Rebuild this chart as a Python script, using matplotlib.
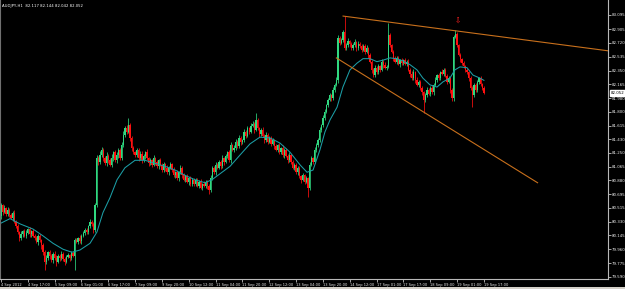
import matplotlib
matplotlib.use("Agg")
import matplotlib.pyplot as plt
from matplotlib.patches import Rectangle

plt.rcParams['font.family'] = ['DejaVu Sans']
plt.rcParams['font.stretch'] = 'condensed'

# ---------------- data ----------------
header_text = "AUDJPY,H1  82.117 82.144 82.042 82.052"
first_open = 80.40
closes = [
    80.55, 80.46, 80.51, 80.43, 80.49, 80.42, 80.38, 80.45, 80.33, 80.27,
    80.19, 80.11, 80.16, 80.20, 80.14, 80.18, 80.23, 80.16, 80.20, 80.14,
    80.11, 80.06, 80.14, 80.08, 80.02, 79.92, 79.79, 79.84, 79.92, 79.87,
    79.82, 79.90, 79.84, 79.79, 79.87, 79.84, 79.90, 79.83, 79.79, 79.86,
    79.88, 79.84, 79.91, 79.87, 80.08, 80.06, 80.11, 80.07, 80.14, 80.18,
    80.22, 80.19, 80.27, 80.33, 80.30, 80.22, 80.55, 81.18, 81.13, 81.22,
    81.29, 81.18, 81.11, 81.21, 81.15, 81.09, 81.18, 81.26, 81.15, 81.22,
    81.29, 81.18, 81.35, 81.49, 81.58, 81.53, 81.62, 81.45, 81.31, 81.26,
    81.22, 81.29, 81.18, 81.24, 81.15, 81.21, 81.26, 81.18, 81.11, 81.15,
    81.09, 81.18, 81.13, 81.07, 81.15, 81.09, 81.02, 81.10, 81.05, 80.99,
    81.05, 81.10, 81.02, 80.95, 80.99, 80.91, 80.99, 81.05, 80.95, 80.89,
    80.94, 80.86, 80.91, 80.83, 80.89, 80.83, 80.89, 80.81, 80.86, 80.78,
    80.83, 80.81, 80.86, 80.81, 80.75, 80.91, 81.05, 80.99, 81.09, 81.05,
    81.13, 81.07, 81.18, 81.13, 81.21, 81.26, 81.15, 81.35, 81.29, 81.31,
    81.40, 81.34, 81.45, 81.40, 81.42, 81.53, 81.48, 81.58, 81.53, 81.61,
    81.64, 81.56, 81.69, 81.58, 81.50, 81.56, 81.48, 81.42, 81.49, 81.40,
    81.45, 81.37, 81.42, 81.34, 81.29, 81.35, 81.26, 81.31, 81.22, 81.29,
    81.21, 81.15, 81.22, 81.13, 81.05, 81.09, 80.99, 81.05, 80.94, 80.89,
    80.95, 80.86, 80.91, 80.78, 81.09, 81.18, 81.13, 81.29, 81.35, 81.42,
    81.56, 81.62, 81.72, 81.80, 81.89, 81.96, 82.02, 81.98, 82.09, 82.16,
    82.23, 82.79, 82.72, 82.76, 82.87, 82.65, 82.69, 82.74, 82.70, 82.65,
    82.69, 82.73, 82.65, 82.71, 82.68, 82.63, 82.68, 82.60, 82.65, 82.56,
    82.47, 82.36, 82.29, 82.39, 82.33, 82.41, 82.36, 82.47, 82.43, 82.39,
    82.40, 82.83, 82.69, 82.60, 82.52, 82.47, 82.52, 82.44, 82.49, 82.45,
    82.49, 82.44, 82.47, 82.36, 82.31, 82.25, 82.33, 82.23, 82.16, 82.20,
    82.12, 82.06, 81.96, 82.02, 82.09, 82.04, 82.12, 82.06, 82.16, 82.23,
    82.29, 82.25, 82.33, 82.31, 82.36, 82.28, 82.20, 82.25, 82.09, 81.98,
    82.80, 82.84, 82.69, 82.56, 82.50, 82.45, 82.41, 82.36, 82.33, 82.25,
    82.12, 82.02, 82.16, 82.09, 82.20, 82.25, 82.17, 82.12, 82.052,
]
upper_wick = [
    .03, .02, .04, .02, .03, .02, .03, .02, .04, .02,
    .03, .02, .04, .02, .03, .04, .02, .03, .02, .03,
    .02, .03, .02, .03, .02, .02, .03, .04, .02, .03,
    .03, .02, .03, .04, .02, .02, .04, .02, .03, .02,
    .03, .02, .03, .02, .03, .03, .02, .04, .02, .03,
    .02, .03, .02, .04, .02, .02, .03, .04, .03, .05,
    .04, .02, .03, .05, .02, .03, .05, .02, .03, .04,
    .02, .03, .04, .05, .03, .04, .10, .03, .02, .03,
    .02, .03, .02, .03, .04, .03, .02, .04, .02, .03,
    .02, .04, .02, .03, .02, .03, .02, .03, .02, .04,
    .02, .03, .02, .04, .02, .03, .02, .04, .02, .03,
    .02, .03, .02, .03, .02, .03, .02, .03, .02, .04,
    .02, .04, .02, .03, .02, .04, .03, .02, .04, .03,
    .03, .02, .04, .02, .03, .02, .03, .05, .02, .04,
    .03, .02, .04, .03, .02, .04, .02, .03, .02, .04,
    .03, .02, .09, .03, .02, .02, .03, .02, .04, .02,
    .03, .02, .03, .02, .03, .02, .03, .02, .04, .02,
    .03, .02, .04, .02, .03, .02, .03, .02, .03, .02,
    .03, .02, .03, .02, .04, .03, .02, .04, .03, .03,
    .03, .02, .04, .03, .02, .02, .03, .02, .04, .03,
    .03, .04, .03, .02, .03, .21, .03, .04, .02, .03,
    .03, .04, .02, .03, .02, .02, .03, .02, .04, .02,
    .03, .02, .03, .04, .02, .03, .02, .04, .02, .03,
    .02, .16, .03, .02, .03, .03, .02, .03, .02, .03,
    .02, .03, .02, .03, .02, .03, .04, .02, .03, .02,
    .02, .03, .02, .03, .04, .03, .02, .04, .02, .03,
    .02, .03, .02, .04, .02, .03, .02, .03, .02, .03,
    .03, .06, .03, .02, .03, .02, .03, .02, .03, .02,
    .03, .02, .03, .02, .03, .02, .03, .02, .024,
]
lower_wick = [
    .03, .04, .02, .03, .02, .03, .02, .04, .02, .03,
    .02, .04, .02, .03, .02, .03, .02, .03, .04, .02,
    .03, .02, .04, .02, .05, .04, .11, .03, .02, .04,
    .03, .04, .02, .05, .02, .04, .02, .03, .04, .02,
    .02, .04, .03, .02, .19, .02, .03, .02, .04, .02,
    .03, .02, .03, .02, .03, .04, .03, .02, .04, .03,
    .03, .04, .02, .03, .04, .02, .03, .04, .02, .03,
    .04, .02, .03, .02, .03, .03, .02, .04, .03, .02,
    .03, .02, .04, .02, .03, .02, .04, .02, .03, .02,
    .03, .02, .04, .02, .03, .02, .03, .02, .04, .02,
    .03, .02, .03, .02, .04, .02, .04, .02, .03, .02,
    .03, .02, .04, .02, .03, .02, .03, .02, .03, .02,
    .03, .02, .03, .04, .05, .02, .03, .02, .03, .02,
    .02, .03, .02, .04, .02, .03, .02, .03, .02, .03,
    .02, .03, .02, .04, .03, .02, .03, .02, .03, .02,
    .02, .04, .02, .03, .04, .03, .02, .04, .02, .03,
    .02, .03, .02, .04, .02, .03, .02, .03, .02, .04,
    .02, .04, .02, .03, .02, .03, .02, .04, .02, .04,
    .02, .03, .02, .12, .03, .02, .03, .02, .03, .02,
    .02, .03, .02, .03, .02, .03, .02, .03, .02, .03,
    .02, .04, .03, .02, .03, .03, .02, .03, .04, .02,
    .02, .03, .04, .02, .03, .03, .02, .03, .02, .04,
    .02, .04, .03, .02, .03, .02, .03, .02, .04, .02,
    .03, .02, .03, .02, .04, .02, .03, .02, .04, .02,
    .03, .02, .03, .02, .04, .02, .03, .04, .02, .03,
    .03, .04, .18, .03, .02, .02, .03, .02, .03, .02,
    .03, .02, .03, .02, .03, .02, .03, .02, .04, .03,
    .03, .02, .03, .02, .03, .03, .02, .03, .02, .04,
    .03, .16, .02, .03, .02, .03, .02, .03, .01,
]
ma_bar = [0, 5.4, 11.3, 19.1, 25.0, 31.0, 37.0, 42.3, 47.1, 53.1, 57.2, 60.8,
          65.0, 69.2, 73.9, 79.9, 85.9, 91.8, 97.8, 103.8, 109.7, 115.7, 121.6,
          125.8, 130.6, 136.6, 142.5, 148.5, 154.4, 160.4, 166.4, 172.3, 178.3,
          182.5, 186.1, 190.2, 193.2, 196.2, 200.4, 203.9, 208.1, 212.3, 215.9,
          220.0, 224.2, 227.8, 232.0, 236.1, 239.7, 243.9, 248.1, 251.6, 255.8,
          260.0, 263.6, 267.7, 270.7, 273.7, 277.9, 281.5, 285.6, 288.0]
ma_value = [80.31, 80.37, 80.30, 80.23, 80.14, 80.04, 79.96, 79.92, 79.95, 80.04,
            80.19, 80.45, 80.65, 80.89, 81.05, 81.15, 81.15, 81.11, 81.07, 81.02,
            80.95, 80.89, 80.85, 80.89, 80.97, 81.07, 81.22, 81.37, 81.46, 81.45,
            81.38, 81.26, 81.09, 80.99, 81.02, 81.29, 81.53, 81.69, 81.86, 82.13,
            82.36, 82.45, 82.51, 82.51, 82.47, 82.49, 82.52, 82.51, 82.48, 82.43,
            82.36, 82.25, 82.16, 82.13, 82.20, 82.25, 82.36, 82.40, 82.39, 82.29,
            82.25, 82.22]
time_labels = ["4 Sep 2012", "4 Sep 17:00", "5 Sep 09:00", "6 Sep 01:00",
               "6 Sep 17:00", "7 Sep 09:00", "9 Sep 20:00", "10 Sep 12:00",
               "11 Sep 04:00", "11 Sep 20:00", "12 Sep 12:00", "13 Sep 04:00",
               "13 Sep 20:00", "14 Sep 12:00", "17 Sep 01:00", "17 Sep 17:00",
               "18 Sep 09:00", "19 Sep 01:00", "19 Sep 17:00"]
time_label_bars = [0, 16, 32, 48, 64, 80, 96, 112, 128, 144, 160, 176, 192,
                   208, 224, 240, 256, 272, 288]
price_labels = ["83.095", "82.905", "82.720", "82.535", "82.350", "82.165",
                "81.980", "81.800", "81.615", "81.430", "81.250", "81.065",
                "80.880", "80.695", "80.515", "80.330", "80.145", "79.960",
                "79.775", "79.590"]
upper_trend = [(204, 83.08), (272, 82.88)]
lower_trend = [(200, 82.52), (320, 80.85)]
arrow_point = (272.5, 83.01)
last_price = 82.052

# ---------------- drawing ----------------
W, H = 625, 289
fig = plt.figure(figsize=(W / 100, H / 100), dpi=100, facecolor='black')
ax = fig.add_axes([0, (H - 279) / H, 608 / W, 279 / H])
ax.set_facecolor('black')
ax.set_xlim(-0.6, 362)
ax.set_ylim(79.562, 83.295)

n = len(closes)
opens = [first_open] + closes[:-1]
highs = [max(o, c) + u for o, c, u in zip(opens, closes, upper_wick)]
lows = [min(o, c) - l for o, c, l in zip(opens, closes, lower_wick)]
idx = list(range(n))
up_col, dn_col = '#30d880', '#ff1010'
cols = [up_col if c >= o else dn_col for o, c in zip(opens, closes)]

ax.vlines(idx, lows, highs, colors=cols, linewidth=0.55)
bottoms = [min(o, c) for o, c in zip(opens, closes)]
heights = [max(abs(c - o), 0.008) for o, c in zip(opens, closes)]
ax.bar(idx, heights, bottom=bottoms, width=0.78, color=cols, linewidth=0)

ax.plot(ma_bar, ma_value, color='#1c9ea6', linewidth=0.75)

# trend lines
(x1, y1), (x2, y2) = upper_trend
slope = (y2 - y1) / (x2 - x1)
xr = ax.get_xlim()[1]
ax.plot([x1, xr], [y1, y1 + slope * (xr - x1)], color='#c8701c', linewidth=0.8)
(a1, b1), (a2, b2) = lower_trend
ax.plot([a1, a2], [b1, b2], color='#c8701c', linewidth=0.8)

ax.text(arrow_point[0], arrow_point[1], '\u21e9', color='#ff2020', fontsize=6,
        ha='center', va='center')

# spines
ax.spines['top'].set_visible(False)
ax.spines['right'].set_color('#b8b8b8')
ax.spines['bottom'].set_color('#b8b8b8')
ax.spines['left'].set_color('#707070')
for s in ['right', 'bottom', 'left']:
    ax.spines[s].set_linewidth(0.8)

ax.yaxis.tick_right()
ax.set_yticks([float(p) for p in price_labels])
ax.set_yticklabels(price_labels)
ax.tick_params(axis='y', colors='#e8e8e8', labelsize=3.2, length=2, width=0.5, pad=0.8)
ax.set_xticks(time_label_bars)
ax.set_xticklabels(time_labels)
ax.tick_params(axis='x', colors='#e8e8e8', labelsize=2.9, length=2, width=0.5, pad=0.6)
for lab in ax.get_xticklabels():
    lab.set_horizontalalignment('left')

ax.text(1.004, last_price, f"{last_price:.3f}", transform=ax.get_yaxis_transform(),
        fontsize=3.2, color='black', va='center', ha='left', clip_on=False,
        bbox=dict(boxstyle='square,pad=0.2', fc='white', ec='white'))

fig.text(2 / W, 1 - 6.5 / H, header_text, color='white', fontsize=3.1, va='center', ha='left')

fig.patches.append(Rectangle((0, 0), 1, 2 / H, transform=fig.transFigure,
                             facecolor='#d4d0c8', edgecolor='none'))

fig.savefig('out.png', dpi=100, facecolor='black')
